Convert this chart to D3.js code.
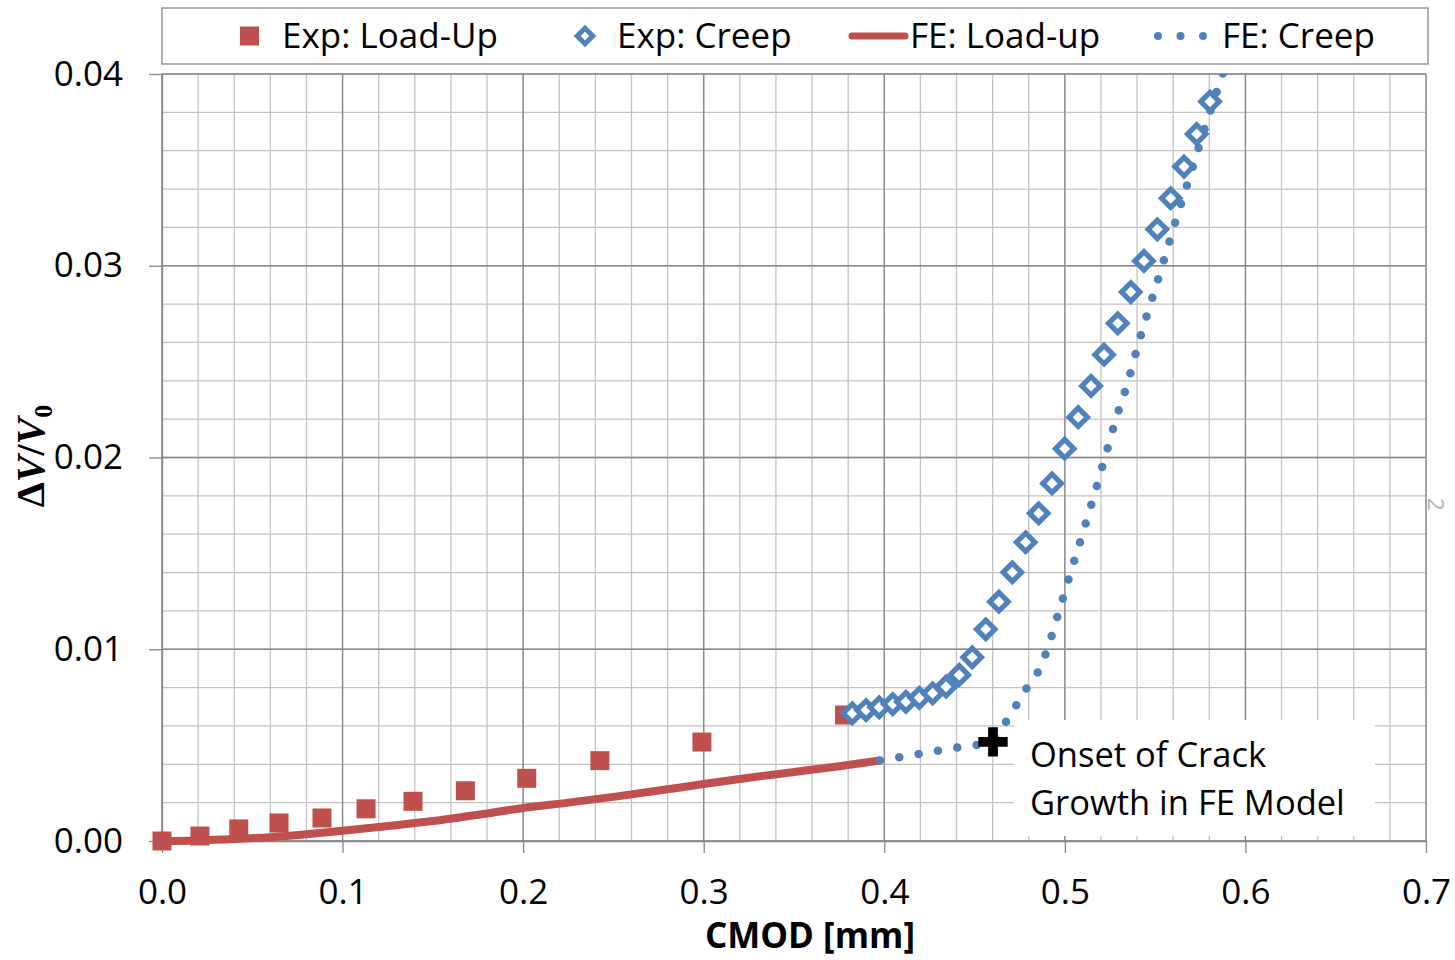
<!DOCTYPE html>
<html>
<head>
<meta charset="utf-8">
<script src="https://cdn.jsdelivr.net/npm/d3@7"></script>
<style>
  body { margin: 0; background: #fff; }
</style>
</head>
<body>
<script>
// Exp: Load-Up (red squares)
const expLoadX = [0.000, 0.021, 0.0425, 0.0648, 0.0886, 0.113, 0.139, 0.168, 0.202, 0.2425, 0.299, 0.378];
const expLoadY = [0.0000, 0.00026, 0.00063, 0.00094, 0.0012, 0.00168, 0.00207, 0.00262, 0.00327, 0.00419, 0.00516, 0.00657];

// Exp: Creep (hollow blue diamonds)
const expCreepX = [0.3823, 0.3899, 0.3972, 0.4047, 0.4120, 0.4194, 0.4268, 0.4342, 0.4415, 0.4487,
  0.4562, 0.4635, 0.4709, 0.4783, 0.4855, 0.4929, 0.4999, 0.5074, 0.5145, 0.5217,
  0.5293, 0.5365, 0.5438, 0.5512, 0.5586, 0.5660, 0.5730, 0.5804];
const expCreepY = [0.00666, 0.00683, 0.00697, 0.00714, 0.00726, 0.00747, 0.00770, 0.00805, 0.00866, 0.00958,
  0.01104, 0.01248, 0.01401, 0.01558, 0.01709, 0.01865, 0.02046, 0.02210, 0.02373, 0.02536,
  0.02700, 0.02863, 0.03025, 0.03190, 0.03352, 0.03517, 0.03687, 0.03856];

// FE: Load-up (solid red line)
const feLoadX = [0, 0.02, 0.04, 0.06, 0.08, 0.1, 0.125, 0.15, 0.175, 0.2, 0.225, 0.25, 0.275, 0.3, 0.325, 0.35, 0.375, 0.3976];
const feLoadY = [0, 0.00003, 0.0001, 0.0002, 0.00035, 0.00053, 0.00078, 0.00104, 0.00137, 0.00172, 0.002, 0.0023, 0.00263, 0.00297, 0.0033, 0.0036, 0.0039, 0.0042];

// FE: Creep (round-dot blue line)
const feCreepX = [0.3976, 0.4202, 0.4419, 0.4533, 0.4600, 0.4630, 0.4683, 0.4740, 0.4800, 0.4862, 0.4903,
  0.4968, 0.5032, 0.5097, 0.5161, 0.5222, 0.5286, 0.5351, 0.5412, 0.5477, 0.5542,
  0.5606, 0.5673, 0.5739, 0.5806, 0.5874, 0.5910];
const feCreepY = [0.0042, 0.00455, 0.0049, 0.00506, 0.0053, 0.00553, 0.00636, 0.00721, 0.00815, 0.0090, 0.0100,
  0.0120, 0.0140, 0.0160, 0.0180, 0.0200, 0.0221, 0.0240, 0.0261, 0.0281, 0.0301,
  0.0321, 0.0341, 0.0361, 0.0381, 0.0400, 0.0411];

// onset of crack growth marker
const onsetX = [0.4602];
const onsetY = [0.00517];

const xTicks = [0, 0.1, 0.2, 0.3, 0.4, 0.5, 0.6, 0.7];
const yTicks = [0, 0.01, 0.02, 0.03, 0.04];
const legendLabels = ['Exp: Load-Up', 'Exp: Creep', 'FE: Load-up', 'FE: Creep'];
const noteLines = ['Onset of Crack', 'Growth in FE Model'];

const red = '#C0504D';
const blue = '#4F81BD';
const majorGrid = '#878787';
const minorGrid = '#c3c3c3';
const sans = '"Open Sans", sans-serif';

const W = 1455, H = 960;
const plot = { left: 162, right: 1426, top: 74, bottom: 841 };

const svg = d3.select('body').append('svg')
  .attr('width', W)
  .attr('height', H)
  .attr('font-family', sans);

const x = d3.scaleLinear().domain([0, 0.7]).range([plot.left, plot.right]);
const y = d3.scaleLinear().domain([0, 0.04]).range([plot.bottom, plot.top]);

// grid, minor first then major on top
const xMinor = d3.range(0, 0.7001, 0.02);
const yMinor = d3.range(0, 0.04001, 0.002);
const grid = svg.append('g');
grid.selectAll('.vminor').data(xMinor).join('line')
  .attr('x1', d => x(d)).attr('x2', d => x(d))
  .attr('y1', plot.top).attr('y2', plot.bottom)
  .attr('stroke', minorGrid).attr('stroke-width', 1.3);
grid.selectAll('.hminor').data(yMinor).join('line')
  .attr('y1', d => y(d)).attr('y2', d => y(d))
  .attr('x1', plot.left).attr('x2', plot.right)
  .attr('stroke', minorGrid).attr('stroke-width', 1.3);
grid.selectAll('.vmajor').data(xTicks).join('line')
  .attr('x1', d => x(d)).attr('x2', d => x(d))
  .attr('y1', plot.top).attr('y2', plot.bottom)
  .attr('stroke', majorGrid).attr('stroke-width', 1.3);
grid.selectAll('.hmajor').data(yTicks).join('line')
  .attr('y1', d => y(d)).attr('y2', d => y(d))
  .attr('x1', plot.left).attr('x2', plot.right)
  .attr('stroke', majorGrid).attr('stroke-width', 1.3);

// axes
const styleAxis = g => {
  g.selectAll('path, line').attr('stroke', majorGrid).attr('stroke-width', 1.3);
  g.selectAll('text').attr('fill', '#000').attr('font-size', 35)
    .attr('font-family', sans);
};
svg.append('g')
  .attr('transform', `translate(${plot.left},0)`)
  .call(d3.axisLeft(y).tickValues(yTicks).tickFormat(d3.format('.2f')).tickSize(13).tickSizeOuter(0).tickPadding(26))
  .call(styleAxis);
svg.append('g')
  .attr('transform', `translate(0,${plot.bottom})`)
  .call(d3.axisBottom(x).tickValues(xTicks).tickFormat(d3.format('.1f')).tickSize(12).tickSizeOuter(0).tickPadding(26))
  .call(styleAxis);

// white text box for the annotation, sits over the grid
svg.append('rect')
  .attr('x', 1014).attr('y', 720).attr('width', 361).attr('height', 116)
  .attr('fill', '#fff');

svg.append('defs').append('clipPath').attr('id', 'clip')
  .append('rect')
  .attr('x', plot.left).attr('y', plot.top)
  .attr('width', plot.right - plot.left).attr('height', plot.bottom - plot.top);

const line = d3.line().x(d => x(d[0])).y(d => y(d[1])).curve(d3.curveMonotoneX);

// FE: Load-up
svg.append('path')
  .datum(d3.zip(feLoadX, feLoadY))
  .attr('d', line)
  .attr('fill', 'none').attr('stroke', red).attr('stroke-width', 8)
  .attr('stroke-linecap', 'butt');

// FE: Creep, round dots
svg.append('path')
  .datum(d3.zip(feCreepX, feCreepY))
  .attr('clip-path', 'url(#clip)')
  .attr('d', line)
  .attr('fill', 'none').attr('stroke', blue).attr('stroke-width', 8.5)
  .attr('stroke-linecap', 'round').attr('stroke-dasharray', '0 19.6');

// Exp: Load-Up squares
const sq = 19;
svg.append('g').selectAll('rect')
  .data(d3.zip(expLoadX, expLoadY))
  .join('rect')
  .attr('x', d => x(d[0]) - sq / 2).attr('y', d => y(d[1]) - sq / 2)
  .attr('width', sq).attr('height', sq)
  .attr('fill', red);

// Exp: Creep diamonds
const diamond = d3.symbol(d3.symbolSquare, 13 * 13);
svg.append('g').selectAll('path')
  .data(d3.zip(expCreepX, expCreepY))
  .join('path')
  .attr('d', diamond)
  .attr('transform', d => `translate(${x(d[0])},${y(d[1])}) rotate(45)`)
  .attr('fill', '#fff').attr('stroke', blue).attr('stroke-width', 5.2);

// onset cross
svg.append('g').selectAll('path')
  .data(d3.zip(onsetX, onsetY))
  .join('path')
  .attr('d', d3.symbol(d3.symbolCross, 480))
  .attr('transform', d => `translate(${x(d[0])},${y(d[1])})`)
  .attr('fill', '#000');

svg.append('text')
  .attr('x', 1030).attr('y', 767)
  .attr('font-size', 34.5)
  .selectAll('tspan').data(noteLines).join('tspan')
  .attr('x', 1030).attr('dy', (d, i) => i ? 48 : 0)
  .text(d => d);

// legend
const legend = svg.append('g');
legend.append('rect')
  .attr('x', 162).attr('y', 8).attr('width', 1266).attr('height', 56)
  .attr('fill', '#fff').attr('stroke', majorGrid).attr('stroke-width', 1.3);
const ly = 36;
legend.append('rect').attr('x', 240).attr('y', ly - 9.5).attr('width', 19).attr('height', 19).attr('fill', red);
legend.append('path').attr('d', d3.symbol(d3.symbolSquare, 11 * 11))
  .attr('transform', `translate(585,${ly}) rotate(45)`)
  .attr('fill', '#fff').attr('stroke', blue).attr('stroke-width', 5);
legend.append('line').attr('x1', 852).attr('x2', 905).attr('y1', ly).attr('y2', ly)
  .attr('stroke', red).attr('stroke-width', 7).attr('stroke-linecap', 'round');
legend.append('line').attr('x1', 1158).attr('x2', 1204).attr('y1', ly).attr('y2', ly)
  .attr('stroke', blue).attr('stroke-width', 8).attr('stroke-linecap', 'round')
  .attr('stroke-dasharray', '0 22.5');
const legendX = [282, 617, 910, 1222];
legend.selectAll('.lt').data(legendLabels).join('text')
  .attr('x', (d, i) => legendX[i]).attr('y', 48)
  .attr('font-size', 35)
  .text(d => d);

// axis titles
svg.append('text')
  .attr('x', 810).attr('y', 948)
  .attr('text-anchor', 'middle')
  .attr('font-size', 35).attr('font-weight', 'bold')
  .text('CMOD [mm]');

const yTitle = svg.append('text')
  .attr('transform', 'translate(44,456) rotate(-90)')
  .attr('text-anchor', 'middle')
  .attr('font-family', '"Liberation Serif", "Times New Roman", serif')
  .attr('font-size', 40).attr('font-weight', 'bold');
yTitle.append('tspan').text('Δ');
yTitle.append('tspan').attr('font-style', 'italic').text('V');
yTitle.append('tspan').text('/');
yTitle.append('tspan').attr('font-style', 'italic').text('V');
yTitle.append('tspan').attr('font-size', 26).attr('dy', 8).text('0');

// faint label peeking in at the far right edge
svg.append('text')
  .attr('transform', 'translate(1428,498) rotate(90)')
  .attr('font-size', 22).attr('fill', '#b0b0b0')
  .text('2');
</script>
</body>
</html>
